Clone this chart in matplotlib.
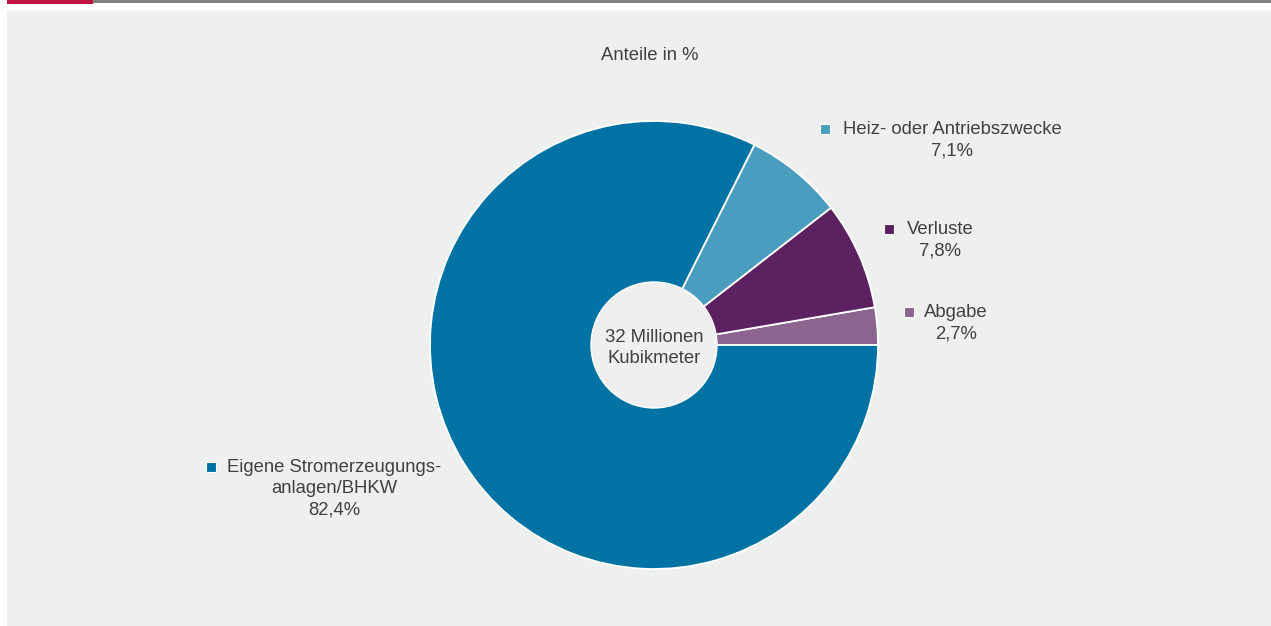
"""
Gasverwendung: Anteile in % als Ringdiagramm.
"""
import matplotlib
matplotlib.use("Agg")
import matplotlib.pyplot as plt
from matplotlib.patches import Rectangle, Circle

plt.rcParams['font.family'] = ['Liberation Sans', 'DejaVu Sans']

# data, counter-clockwise from 3 o'clock
labels = ["Abgabe", "Verluste", "Heiz- oder Antriebszwecke",
          "Eigene Stromerzeugungs-\nanlagen/BHKW"]
shares = [2.7, 7.8, 7.1, 82.4]
colors = ['#8B6590', '#5B2160', '#4B9DC0', '#0072A3']
title = "Anteile in %"
center_text = "32 Millionen\nKubikmeter"

W, H = 1271, 626
TXT = '#404040'
FS = 13.3
fig = plt.figure(figsize=(W / 100, H / 100), dpi=100)
fig.patch.set_facecolor('white')

# overlay in pixel coordinates for frame and labels
bg = fig.add_axes([0, 0, 1, 1])
bg.set_xlim(0, W)
bg.set_ylim(H, 0)
bg.axis('off')
bg.add_patch(Rectangle((7, 11), W - 7, H - 11, color='#EEF0EF', lw=0))
bg.add_patch(Rectangle((93, 0), W - 93, 2.5, color='#808080', lw=0))
bg.add_patch(Rectangle((7, 0), 86, 3.5, color='#C0103F', lw=0))
bg.text(650, 55, title, ha='center', va='center', fontsize=FS, color=TXT)

# pie
cx, cy, r = 654, 345, 224
ax = fig.add_axes([(cx - r) / W, (H - cy - r) / H, 2 * r / W, 2 * r / H])
ax.pie(shares, colors=colors, startangle=0, counterclock=True,
       wedgeprops=dict(edgecolor='white', linewidth=1.3))
ax.set_xlim(-1, 1)
ax.set_ylim(-1, 1)
ax.add_patch(Circle((0, 0), 63 / r, facecolor='#EFEFEF', edgecolor='white',
                    linewidth=1, zorder=5))
ax.text(0, -3 / r, center_text, ha='center', va='center', fontsize=FS,
        color=TXT, linespacing=1.25, zorder=6)

# label positions (marker x, marker y, text centre x)
label_pos = [(909, 312, 956), (889, 229, 940), (825, 129, 952), (211, 467, 334)]
for lab, val, col, (mx, my, tx) in zip(labels, shares, colors, label_pos):
    bg.plot(mx, my, marker='s', ms=7, color=col, mec='white', mew=0.8)
    txt = lab + '\n' + f"{val:.1f}%".replace('.', ',')
    bg.text(tx, my - 8, txt, ha='center', va='top', fontsize=FS,
            color=TXT, linespacing=1.33)

fig.savefig('out.png', dpi=100, facecolor=fig.get_facecolor())
